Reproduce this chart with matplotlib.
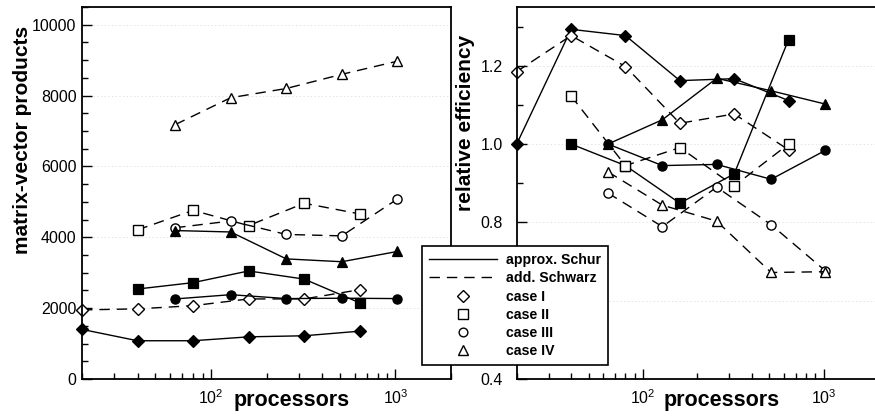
import matplotlib
matplotlib.use('Agg')
import matplotlib.pyplot as plt
from matplotlib.lines import Line2D
from matplotlib.ticker import MultipleLocator, LogLocator, NullFormatter

plt.rcParams['font.family'] = ['Liberation Sans', 'DejaVu Sans']
plt.rcParams['lines.scale_dashes'] = False
plt.rcParams['mathtext.default'] = 'regular'

# ---------------- data ----------------
procs_I = [20, 40, 80, 160, 320, 640]
procs_II = [40, 80, 160, 320, 640]
procs_III = [64, 128, 256, 512, 1024]
procs_IV = [64, 128, 256, 512, 1024]

# matrix-vector products
mv_schur_I = [1400, 1080, 1080, 1190, 1220, 1350]
mv_schw_I = [1950, 1980, 2070, 2260, 2260, 2520]
mv_schur_II = [2540, 2720, 3050, 2820, 2150]
mv_schw_II = [4210, 4760, 4330, 4960, 4660]
mv_schur_III = [2260, 2380, 2270, 2280, 2270]
mv_schw_III = [4270, 4460, 4080, 4040, 5080]
mv_schur_IV = [4190, 4150, 3390, 3310, 3600]
mv_schw_IV = [7180, 7940, 8200, 8600, 8970]

# relative efficiency
eff_schur_I = [1.0, 1.293, 1.277, 1.162, 1.167, 1.111]
eff_schw_I = [1.185, 1.277, 1.198, 1.053, 1.077, 0.985]
eff_schur_II = [1.0, 0.945, 0.849, 0.924, 1.267]
eff_schw_II = [1.123, 0.945, 0.991, 0.893, 1.0]
eff_schur_III = [1.0, 0.945, 0.948, 0.910, 0.984]
eff_schw_III = [0.875, 0.789, 0.890, 0.794, 0.676]
eff_schur_IV = [1.0, 1.062, 1.168, 1.136, 1.102]
eff_schw_IV = [0.929, 0.844, 0.803, 0.672, 0.674]

case_labels = ['case I', 'case II', 'case III', 'case IV']
method_labels = ['approx. Schur', 'add. Schwarz']
markers = ['D', 's', 'o', '^']
msizes = [6.0, 7.0, 6.6, 7.8]

W, H = 875, 416
fig = plt.figure(figsize=(W / 100, H / 100), dpi=100)

def px_axes(x0, y0, x1, y1):
    return fig.add_axes([x0 / W, 1 - y1 / H, (x1 - x0) / W, (y1 - y0) / H])

axL = px_axes(82, 7, 451, 379)
axR = px_axes(516.7, 7, 878, 379)

DASH = (0, (7.5, 5))
LW = 1.0

def draw(ax, series):
    for i, (x, schur, schw) in enumerate(series):
        ax.plot(x, schur, color='black', lw=LW, ls='-', marker=markers[i],
                ms=msizes[i], mfc='black', mec='black', mew=0.9, clip_on=False)
        ax.plot(x, schw, color='black', lw=LW, ls=DASH, marker=markers[i],
                ms=msizes[i], mfc='white', mec='black', mew=1.0, clip_on=False)

draw(axL, [(procs_I, mv_schur_I, mv_schw_I),
           (procs_II, mv_schur_II, mv_schw_II),
           (procs_III, mv_schur_III, mv_schw_III),
           (procs_IV, mv_schur_IV, mv_schw_IV)])
draw(axR, [(procs_I, eff_schur_I, eff_schw_I),
           (procs_II, eff_schur_II, eff_schw_II),
           (procs_III, eff_schur_III, eff_schw_III),
           (procs_IV, eff_schur_IV, eff_schw_IV)])

for ax in (axL, axR):
    ax.set_xscale('log')
    ax.set_xlim(20, 2000)
    ax.xaxis.set_major_locator(LogLocator(base=10, numticks=10))
    ax.xaxis.set_minor_locator(LogLocator(base=10, subs=range(2, 10), numticks=10))
    ax.xaxis.set_minor_formatter(NullFormatter())
    ax.tick_params(which='both', direction='in', labelsize=11.5, width=1.0)
    ax.tick_params(which='major', length=7)
    ax.tick_params(which='minor', length=4)
    ax.tick_params(axis='x', pad=7)
    for sp in ax.spines.values():
        sp.set_linewidth(1.3)
    ax.grid(True, axis='y', which='major', color='#dedede', ls=':', lw=0.6)
    ax.set_axisbelow(True)

axL.set_ylim(0, 10500)
axL.yaxis.set_major_locator(MultipleLocator(2000))
axL.yaxis.set_minor_locator(MultipleLocator(500))
axL.tick_params(axis='y', pad=4)

axR.set_ylim(0.4, 1.35)
axR.yaxis.set_major_locator(MultipleLocator(0.2))
axR.yaxis.set_minor_locator(MultipleLocator(0.1))
axR.yaxis.set_major_formatter(matplotlib.ticker.FormatStrFormatter('%.1f'))
axR.tick_params(axis='y', pad=10)

# axis labels
fig.text(292 / W, 1 - 406 / H, 'processors', ha='center', va='baseline',
         fontsize=15.5, fontweight='bold')
fig.text(722 / W, 1 - 406 / H, 'processors', ha='center', va='baseline',
         fontsize=15.5, fontweight='bold')
fig.text(23 / W, 1 - 140 / H, 'matrix-vector products', ha='center', va='center',
         rotation=90, fontsize=15, fontweight='bold')
fig.text(465 / W, 1 - 123 / H, 'relative efficiency', ha='center', va='center',
         rotation=90, fontsize=15, fontweight='bold')

# legend
handles = [Line2D([], [], color='black', lw=LW, ls='-'),
           Line2D([], [], color='black', lw=LW, ls=DASH)]
for i in range(4):
    handles.append(Line2D([], [], ls='none', marker=markers[i], ms=msizes[i] * 0.95,
                          mfc='white', mec='black', mew=1.0))
labels = method_labels + case_labels
leg = fig.legend(handles, labels, loc='upper left',
                 bbox_to_anchor=(422 / W, 1 - 246 / H), bbox_transform=fig.transFigure,
                 borderaxespad=0, frameon=True, fancybox=False, framealpha=1,
                 edgecolor='black', prop={'weight': 'bold', 'size': 10.2},
                 handlelength=4.8, handletextpad=0.6, labelspacing=0.3,
                 borderpad=0.5)
leg.get_frame().set_linewidth(1.2)

fig.savefig('out.png', dpi=100)
